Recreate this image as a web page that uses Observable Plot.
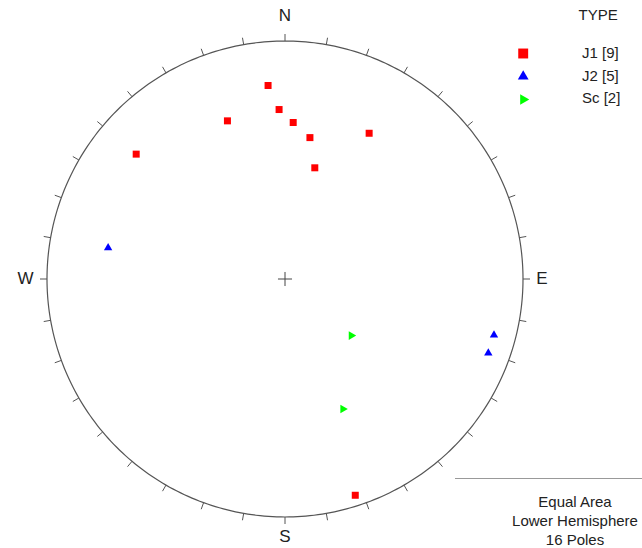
<!DOCTYPE html>
<html><head><meta charset="utf-8">
<script src="https://cdn.jsdelivr.net/npm/d3@7"></script>
<script src="https://cdn.jsdelivr.net/npm/@observablehq/plot@0.6"></script>
<style>
html,body{margin:0;padding:0;background:#fff;}
#chart svg{display:block;}
</style></head><body><div id="chart"></div>
<script>
// ---- data (poles: trend / plunge, degrees) ----
const types = ["J1", "J2", "Sc"];
const j1Trend = [355, 358, 340, 3, 10, 30, 310, 15, 162];
const j1Plunge = [19.5, 29.5, 30, 34.5, 39.5, 30, 19.5, 50, 5];
const j2Trend = [280, 105, 110];
const j2Plunge = [25.5, 10, 10];
const scTrend = [130.5, 156];
const scPlunge = [60, 40];
const legendTitle = "TYPE";
const legendLabels = ["J1 [9]", "J2 [5]", "Sc [2]"];
const cardinalLabels = ["N", "E", "S", "W"];
const cardinalAzimuths = [0, 90, 180, 270];
const tickAzimuths = d3.range(0, 360, 10);
const captionLines = ["Equal Area", "Lower Hemisphere", "16 Poles"];

// ---- styling / layout ----
const colors = ["#ff0000", "#0000ff", "#00ff00"];
const font = "'Liberation Sans', Arial, sans-serif";
const textColor = "#222";
const cx = 284.5, cy = 278.5, R = 238;
const rad = Math.PI / 180;

// equal-area (Schmidt) lower-hemisphere projection
function project(trend, plunge) {
  const r = Math.SQRT2 * Math.sin((90 - plunge) * rad / 2);
  return {x: r * Math.sin(trend * rad), y: r * Math.cos(trend * rad)};
}
const triangleUp = {
  draw(context, size) {
    const y = -Math.sqrt(size / (Math.sqrt(3) * 3));
    context.moveTo(0, y * 2);
    context.lineTo(-Math.sqrt(3) * y, -y);
    context.lineTo(Math.sqrt(3) * y, -y);
    context.closePath();
  }
};
const triangleRight = {
  draw(context, size) {
    const y = -Math.sqrt(size / (Math.sqrt(3) * 3));
    context.moveTo(-y * 2, 0);
    context.lineTo(y, -Math.sqrt(3) * y);
    context.lineTo(y, Math.sqrt(3) * y);
    context.closePath();
  }
};
const symbols = ["square", triangleUp, triangleRight];
const series = [
  j1Trend.map((t, i) => project(t, j1Plunge[i])),
  j2Trend.map((t, i) => project(t, j2Plunge[i])),
  scTrend.map((t, i) => project(t, scPlunge[i]))
];
const dataR = [3.95, 3.1, 3.2];
const legendR = [5.6, 4.0, 3.9];
const cardinalOffsets = [[0, -25], [19, 0], [0, 19.5], [-21.5, 0]];
const tickLen = 7 / R;
const svgNS = "http://www.w3.org/2000/svg";

const chart = Plot.plot({
  width: 642, height: 548, margin: 0,
  x: {domain: [-1, 1], range: [cx - R, cx + R], axis: null},
  y: {domain: [-1, 1], range: [cy + R, cy - R], axis: null},
  style: {fontFamily: font, background: "#fff", color: textColor},
  marks: [
    // primitive circle
    Plot.line(d3.range(0, 361, 1), {
      x: a => Math.sin(a * rad), y: a => Math.cos(a * rad),
      stroke: "#555", strokeWidth: 1.2
    }),
    // 10° ticks
    Plot.link(tickAzimuths, {
      x1: a => Math.sin(a * rad), y1: a => Math.cos(a * rad),
      x2: a => (1 + tickLen) * Math.sin(a * rad), y2: a => (1 + tickLen) * Math.cos(a * rad),
      stroke: "#555", strokeWidth: 1
    }),
    // centre cross (projection of the vertical)
    Plot.dot([project(0, 90)], {x: "x", y: "y", symbol: "plus", r: 4.6, stroke: "#444", strokeWidth: 1}),
    // cardinal labels
    ...cardinalLabels.map((lab, i) => Plot.text([lab], {
      x: () => Math.sin(cardinalAzimuths[i] * rad),
      y: () => Math.cos(cardinalAzimuths[i] * rad),
      text: d => d, dx: cardinalOffsets[i][0], dy: cardinalOffsets[i][1],
      fontSize: 17, fill: textColor
    })),
    // poles
    ...series.map((pts, k) => Plot.dot(pts, {
      x: "x", y: "y", symbol: symbols[k], fill: colors[k], r: dataR[k]
    })),
    // legend
    Plot.text([legendTitle], {frameAnchor: "top-left", lineAnchor: "middle", text: d => d, dx: 578, dy: 15, fontSize: 15, fill: textColor}),
    ...types.map((t, i) => Plot.dot([t], {
      frameAnchor: "top-left", dx: 522.7, dy: 53 + i * 23,
      symbol: symbols[i], fill: colors[i], r: legendR[i]
    })),
    ...legendLabels.map((lab, i) => Plot.text([lab], {
      frameAnchor: "top-left", lineAnchor: "middle", text: d => d, dx: 581.5, dy: 53 + i * 22.2,
      textAnchor: "start", fontSize: 15, fill: textColor
    })),
    // caption separator + caption
    () => {
      const l = document.createElementNS(svgNS, "line");
      l.setAttribute("x1", 455); l.setAttribute("x2", 642);
      l.setAttribute("y1", 478.5); l.setAttribute("y2", 478.5);
      l.setAttribute("stroke", "#999"); l.setAttribute("stroke-width", 1);
      return l;
    },
    ...captionLines.map((line, i) => Plot.text([line], {
      frameAnchor: "top-left", lineAnchor: "middle", text: d => d, dx: 574.5, dy: 502 + i * 19,
      fontSize: 15, textAnchor: "middle", fill: textColor
    }))
  ]
});
document.getElementById("chart").appendChild(chart);
</script>
</body></html>
